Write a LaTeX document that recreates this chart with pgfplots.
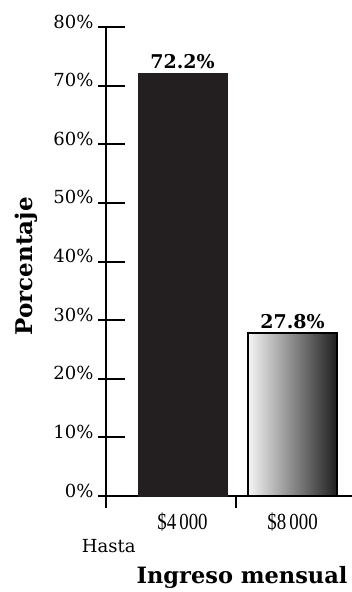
\documentclass[border=0pt]{standalone}
\usepackage{fontspec}
\setmainfont{DejaVu Serif}
\newfontfamily\condfont{Liberation Serif}
\usepackage{pgfplots}
\pgfplotsset{compat=1.18}
\definecolor{barblack}{HTML}{231F20}
\newcommand\ticksize{\fontsize{18}{21}\selectfont}
\begin{document}
\begin{tikzpicture}
\begin{axis}[
  name=ax,
  scale only axis,
  width=246pt, height=469pt,
  xmin=-0.695, xmax=1.54,
  ymin=0, ymax=80,
  /pgf/number format/assume math mode=true,
  axis x line*=bottom, axis y line*=left,
  axis line style={line width=2pt, -},
  ytick={0,10,...,80},
  yticklabel={\pgfmathprintnumber{\tick}\%},
  yticklabel style={font=\ticksize, anchor=base east, xshift=-9pt, yshift=-1pt},
  ytick align=inside,
  major tick length=27pt,
  ytick style={xshift=-8pt, line width=2pt, black},
  xtick={0,1},
  xticklabels={\$4\,000,\$8\,000},
  xtick style={draw=none},
  xticklabel style={anchor=base, yshift=-6pt, xscale=0.82, font=\condfont\fontsize{23}{27}\selectfont},
  extra x ticks={-0.695,0.486},
  extra x tick labels={},
  extra x tick style={xtick align=outside, major tick length=12pt, xtick style={draw=black, line width=2pt}},
  ylabel={Porcentaje},
  ylabel style={font=\fontsize{23}{27}\selectfont\bfseries, at={([xshift=-73pt]axis description cs:0,0.49)}, anchor=base},
  xlabel={Ingreso mensual},
  xlabel style={font=\fontsize{22.5}{26}\selectfont\bfseries, at={(axis description cs:0.553,0)}, anchor=base, yshift=-87pt},
  ybar, bar width=89pt, bar shift=0pt,
  nodes near coords={\pgfmathprintnumber[fixed,precision=1]{\pgfplotspointmeta}\%},
  every node near coord/.append style={font=\fontsize{19}{22}\selectfont\bfseries, black},
  clip=false,
]
\addplot[fill=barblack, draw=barblack] coordinates {(0,72.2)};
\addplot[draw=black, line width=1.8pt, left color=black!4, right color=black!88] coordinates {(1,27.8)};
\node[font=\ticksize, anchor=base] at ([yshift=-56pt]axis cs:-0.67,0) {Hasta};
\end{axis}
\pgfresetboundingbox
\path ([shift={(-106pt,-96pt)}]ax.south west) rectangle ++(352pt,592pt);
\end{tikzpicture}
\end{document}
